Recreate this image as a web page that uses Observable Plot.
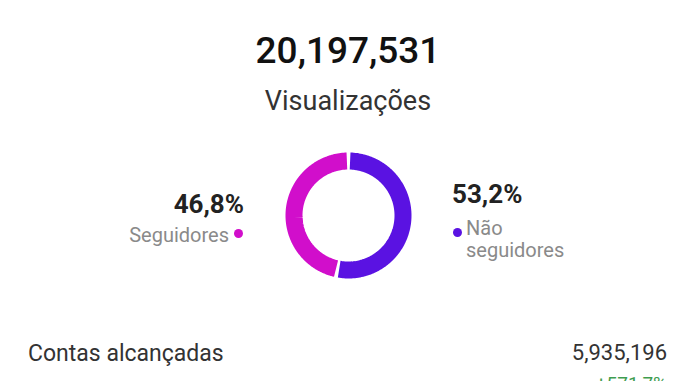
<!DOCTYPE html>
<html>
<head>
<meta charset="utf-8">
<script src="https://cdn.jsdelivr.net/npm/d3@7"></script>
<script src="https://cdn.jsdelivr.net/npm/@observablehq/plot@0.6"></script>
<style>
  html, body { margin: 0; padding: 0; background: #fff; }
  body { width: 696px; height: 381px; position: relative; overflow: hidden; font-family: Roboto, "Noto Sans", sans-serif; }
  .t { position: absolute; white-space: nowrap; line-height: 1; }
  #donut { position: absolute; left: 278px; top: 145px; }
</style>
</head>
<body>
<div id="root"></div>
<script>
// ---- data ----
const totalLabel = "20,197,531";
const metricLabel = "Visualizações";
const categories = ["Não seguidores", "Seguidores"];
const shares = [53.2, 46.8];
const shareLabels = ["53,2%", "46,8%"];
const colors = ["#5a12e2", "#d10ecb"];
const reachLabel = "Contas alcançadas";
const reachValue = "5,935,196";
const reachChange = "+571,7%";

// ---- donut via Plot (clockwise from top) ----
const R = 54.5, W = 17, gapPx = 3.2;
const total = d3.sum(shares);
const pts = [];
let start = 0;
categories.forEach((c, i) => {
  const a0 = start / total * 2 * Math.PI;
  const a1 = (start + shares[i]) / total * 2 * Math.PI;
  const g = (gapPx / 2) / R;
  const n = 120;
  for (let k = 0; k <= n; k++) {
    const a = a0 + g + (a1 - a0 - 2 * g) * k / n;
    pts.push({cat: c, x: R * Math.sin(a), y: -R * Math.cos(a)});
  }
  start += shares[i];
});

const donut = Plot.plot({
  width: 140, height: 140,
  margin: 0,
  x: {domain: [-70, 70], range: [0, 140], axis: null},
  y: {domain: [-70, 70], range: [0, 140], axis: null},
  color: {domain: categories, range: colors},
  marks: [
    Plot.line(pts, {x: "x", y: "y", z: "cat", stroke: "cat", strokeWidth: W, strokeLinecap: "butt", strokeLinejoin: "round", curve: "linear"})
  ]
});
donut.id = "donut";

const root = document.getElementById("root");
root.appendChild(donut);

function addText(txt, style) {
  const d = document.createElement("div");
  d.className = "t";
  d.textContent = txt;
  Object.assign(d.style, style);
  root.appendChild(d);
  return d;
}
function addDot(cx, cy, r, color) {
  const d = document.createElement("div");
  Object.assign(d.style, {position: "absolute", left: (cx - r) + "px", top: (cy - r) + "px", width: 2*r + "px", height: 2*r + "px", borderRadius: "50%", background: color});
  root.appendChild(d);
}

// header
addText(totalLabel, {left: "0", width: "696px", textAlign: "center", top: "32px", fontSize: "37px", fontWeight: "500", color: "#111"});
addText(metricLabel, {left: "0", width: "696px", textAlign: "center", top: "88px", fontSize: "27px", color: "#333"});

// left label (Seguidores)
addText(shareLabels[1], {right: (696 - 244) + "px", top: "191px", fontSize: "26px", fontWeight: "700", color: "#222"});
addText(categories[1], {right: (696 - 229) + "px", top: "225px", fontSize: "20px", color: "#8a8a8a"});
addDot(238.5, 233.5, 4.5, colors[1]);

// right label (Não seguidores), wrapped on two lines
addText(shareLabels[0], {left: "452px", top: "181px", fontSize: "26px", fontWeight: "700", color: "#222"});
addDot(457.5, 232.5, 4.5, colors[0]);
const [w1, w2] = categories[0].split(" ");
addText(w1, {left: "466px", top: "218px", fontSize: "20px", color: "#8a8a8a"});
addText(w2, {left: "466px", top: "240px", fontSize: "20px", color: "#8a8a8a"});

// bottom row
addText(reachLabel, {left: "28px", top: "342px", fontSize: "23px", color: "#333"});
addText(reachValue, {right: (696 - 667) + "px", top: "342px", fontSize: "22px", color: "#333"});
addText(reachChange, {right: (696 - 667) + "px", top: "374px", fontSize: "19px", color: "#3f9d4f"});
</script>
</body>
</html>
